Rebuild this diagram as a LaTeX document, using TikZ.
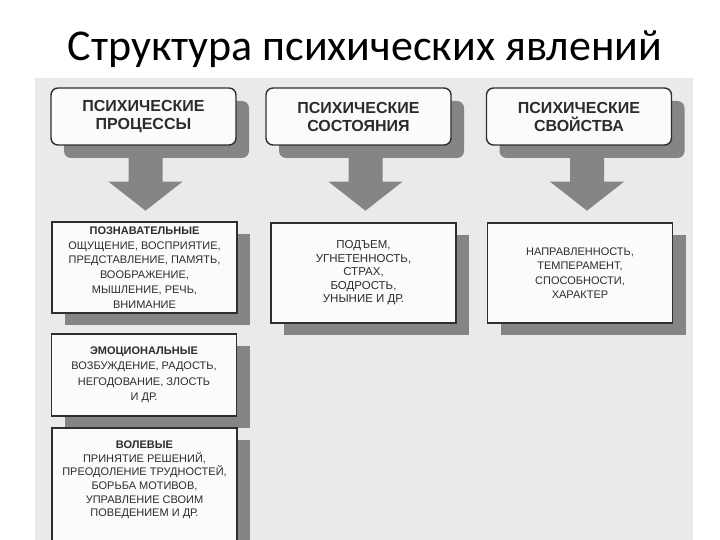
\documentclass[tikz,border=0pt]{standalone}
\usepackage{fontspec}
\setmainfont{Liberation Sans}
\newfontfamily\titlefont{Carlito}
\usetikzlibrary{shadows,calc}
\definecolor{scanbg}{HTML}{EAEAEA}
\definecolor{shadowgray}{HTML}{858585}
\definecolor{inkgray}{HTML}{2E2E2E}
\definecolor{textgray}{HTML}{2C2C2C}
\definecolor{boxfill}{HTML}{FBFBFB}
\begin{document}
\begin{tikzpicture}[x=1pt,y=-1pt,
  topbox/.style={draw=inkgray, line width=1.4pt, fill=boxfill, rounded corners=7pt,
    minimum width=185pt, minimum height=57pt, align=center, inner sep=0pt,
    font=\fontsize{16}{18}\selectfont\bfseries, text=textgray,
    drop shadow={shadow xshift=13pt, shadow yshift=-13pt, fill=shadowgray, opacity=1}},
  midbox/.style={draw=inkgray, line width=1.2pt, fill=boxfill, minimum width=185pt,
    align=center, inner sep=0pt, text=textgray,
    drop shadow={shadow xshift=13pt, shadow yshift=-12pt, fill=shadowgray, opacity=1}},
  midtext/.style={align=center, inner sep=0pt, text=textgray},
  bigarrow/.style={fill=shadowgray}]
\useasboundingbox (0,0) rectangle (720,540);
\fill[scanbg] (35,78) rectangle (693,540);

\node[font=\titlefont\fontsize{44}{50}\selectfont, anchor=base] (title) at (365,61) {Структура психических явлений};

% top boxes
\node[topbox] (p1) at (143.5,116.5) {ПСИХИЧЕСКИЕ\\ПРОЦЕССЫ};
\node[topbox] (p2) at (358.5,116.5) {ПСИХИЧЕСКИЕ\\СОСТОЯНИЯ};
\node[topbox] (p3) at (579,116.5) {ПСИХИЧЕСКИЕ\\СВОЙСТВА};

% arrows
\coordinate (a1) at ($(p1.south)+(2,0)$);
\coordinate (a2) at ($(p2.south)+(7,0)$);
\coordinate (a3) at ($(p3.south)+(8,0)$);
\foreach \a in {a1,a2,a3}{
  \fill[bigarrow, shift={(\a)}] (-17,3) -- (-17,36) -- (-37,36) -- (0,65) -- (37,36) -- (17,36) -- (17,3) -- cycle;
}

% middle boxes
\node[midbox, minimum height=91pt, font=\fontsize{11}{14.8}\selectfont] (m1) at (144.5,267.5)
  {\textbf{ПОЗНАВАТЕЛЬНЫЕ}\\ОЩУЩЕНИЕ, ВОСПРИЯТИЕ,\\ПРЕДСТАВЛЕНИЕ, ПАМЯТЬ,\\ВООБРАЖЕНИЕ,\\МЫШЛЕНИЕ, РЕЧЬ,\\ВНИМАНИЕ};
\node[midbox, minimum height=100pt, font=\fontsize{11.5}{13.5}\selectfont] (s1) at (363.5,273)
  {ПОДЪЕМ,\\УГНЕТЕННОСТЬ,\\СТРАХ,\\БОДРОСТЬ,\\УНЫНИЕ И ДР.};
\node[midbox, minimum height=100pt, font=\fontsize{11}{14.5}\selectfont] (c1) at (580,273)
  {НАПРАВЛЕННОСТЬ,\\ТЕМПЕРАМЕНТ,\\СПОСОБНОСТИ,\\ХАРАКТЕР};
\node[midbox, minimum height=82pt, font=\fontsize{11}{15.5}\selectfont] (m2) at (144,375)
  {\textbf{ЭМОЦИОНАЛЬНЫЕ}\\ВОЗБУЖДЕНИЕ, РАДОСТЬ,\\НЕГОДОВАНИЕ, ЗЛОСТЬ\\И ДР.};
\node[midbox, minimum height=140pt] (m3) at (144.5,498) {};
\node[midtext, font=\fontsize{11}{13.6}\selectfont] (m3t) at (144.5,480)
  {\textbf{ВОЛЕВЫЕ}\\ПРИНЯТИЕ РЕШЕНИЙ,\\ПРЕОДОЛЕНИЕ ТРУДНОСТЕЙ,\\БОРЬБА МОТИВОВ,\\УПРАВЛЕНИЕ СВОИМ\\ПОВЕДЕНИЕМ И ДР.};
\end{tikzpicture}
\end{document}
